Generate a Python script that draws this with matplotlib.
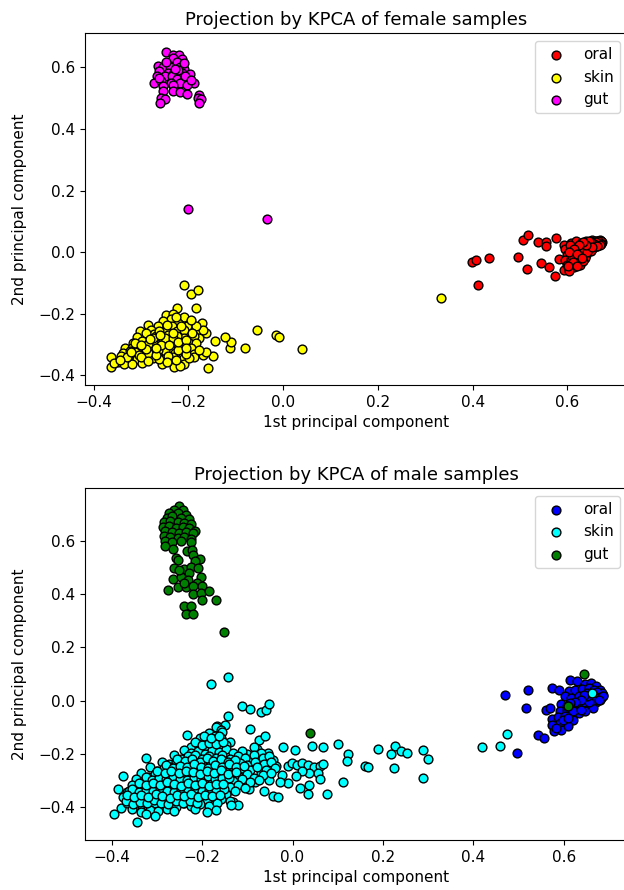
import matplotlib
matplotlib.use("Agg")
import matplotlib.pyplot as plt

# ---------------- female samples ----------------
oral_f_x = [0.399, 0.407, 0.434, 0.412, 0.495, 0.514, 0.506, 0.516, 0.538, 0.555, 0.555, 0.576, 0.544, 0.561, 0.574, 0.583, 0.593,
            0.593, 0.607, 0.618, 0.629, 0.640, 0.651, 0.662, 0.670, 0.673,
            0.596, 0.611, 0.626, 0.637, 0.648, 0.659, 0.666,
            0.600, 0.611, 0.622, 0.633, 0.644, 0.655, 0.662,
            0.596, 0.607, 0.618, 0.629, 0.640, 0.649,
            0.600, 0.611, 0.626, 0.637,
            0.604, 0.615, 0.626, 0.604,
            0.666, 0.670, 0.659, 0.662, 0.655, 0.648, 0.653, 0.644, 0.661, 0.668, 0.672, 0.656,
            0.605, 0.632, 0.642, 0.617, 0.624, 0.633, 0.610,
            0.668, 0.664, 0.671, 0.660, 0.657, 0.669, 0.650, 0.646, 0.663, 0.652, 0.640, 0.634, 0.625, 0.614,
            0.603, 0.620, 0.630, 0.612, 0.601, 0.620]
oral_f_y = [-0.031, -0.026, -0.019, -0.105, -0.016, -0.054, 0.039, 0.057, 0.034, 0.034, 0.019, 0.046, -0.035, -0.049, -0.076, -0.022, -0.058,
            0.025, 0.030, 0.036, 0.030, 0.038, 0.039, 0.038, 0.036, 0.032,
            0.009, 0.014, 0.017, 0.019, 0.022, 0.027, 0.030,
            -0.008, -0.002, 0.000, 0.003, 0.009, 0.014, 0.019,
            -0.024, -0.022, -0.018, -0.016, -0.008, 0.003,
            -0.040, -0.035, -0.029, -0.018,
            -0.054, -0.048, -0.040, -0.062,
            0.034, 0.030, 0.034, 0.025, 0.030, 0.030, 0.022, 0.025, 0.035, 0.039, 0.035, 0.038,
            0.022, 0.011, 0.000, 0.006, -0.011, -0.029, -0.013,
            0.030, 0.036, 0.028, 0.032, 0.027, 0.024, 0.033, 0.035, 0.020, 0.017, 0.025, 0.032, 0.025, 0.012,
            0.000, -0.005, -0.020, -0.030, -0.045, -0.045]

skin_f_x = [-0.210, -0.195, -0.179, -0.224, -0.184, 0.333, -0.056, -0.015, -0.008, 0.040, -0.080, -0.113, -0.109, -0.123, -0.144,
            -0.158, -0.147, -0.169, -0.162,
            -0.248, -0.232, -0.210, -0.237, -0.253, -0.286, -0.264, -0.221, -0.202, -0.171, -0.235,
            -0.301, -0.279, -0.246, -0.224, -0.210, -0.180, -0.162, -0.272, -0.290,
            -0.308, -0.268, -0.242, -0.210, -0.177, -0.188,
            -0.316, -0.297, -0.275, -0.253, -0.232, -0.199, -0.184, -0.210,
            -0.334, -0.319, -0.301, -0.283, -0.261, -0.239, -0.217, -0.195,
            -0.338, -0.312, -0.294, -0.272, -0.250, -0.228, -0.206, -0.188,
            -0.363, -0.349, -0.327, -0.308, -0.275, -0.253, -0.232, -0.210, -0.188,
            -0.363, -0.336, -0.319, -0.297, -0.255, -0.232, -0.230, -0.210, -0.217,
            -0.323, -0.286, -0.242, -0.221, -0.264, -0.312, -0.286, -0.177, -0.199, -0.169, -0.184, -0.224, -0.261, -0.275,
            -0.250, -0.232, -0.341, -0.356, -0.305, -0.261,
            -0.300, -0.285, -0.268, -0.245, -0.225, -0.205, -0.258, -0.240, -0.222, -0.205, -0.192, -0.232, -0.268, -0.290,
            -0.215, -0.195, -0.226, -0.244, -0.260, -0.300, -0.330, -0.345, -0.320, -0.280, -0.205]
skin_f_y = [-0.105, -0.137, -0.121, -0.181, -0.181, -0.149, -0.253, -0.267, -0.275, -0.314, -0.310, -0.310, -0.291, -0.275, -0.289,
            -0.377, -0.337, -0.332, -0.324,
            -0.205, -0.202, -0.210, -0.218, -0.224, -0.235, -0.238, -0.229, -0.238, -0.229, -0.240,
            -0.256, -0.251, -0.256, -0.256, -0.251, -0.251, -0.262, -0.264, -0.262,
            -0.275, -0.272, -0.270, -0.278, -0.278, -0.272,
            -0.294, -0.289, -0.294, -0.289, -0.294, -0.294, -0.294, -0.299,
            -0.310, -0.310, -0.314, -0.310, -0.307, -0.310, -0.314, -0.310,
            -0.326, -0.324, -0.326, -0.326, -0.321, -0.326, -0.324, -0.329,
            -0.339, -0.357, -0.343, -0.348, -0.343, -0.348, -0.339, -0.343, -0.339,
            -0.373, -0.362, -0.364, -0.359, -0.362, -0.359, -0.373, -0.362, -0.370,
            -0.321, -0.326, -0.337, -0.316, -0.316, -0.294, -0.299, -0.316, -0.343, -0.251, -0.240, -0.272, -0.256, -0.278,
            -0.278, -0.278, -0.337, -0.359, -0.332, -0.348,
            -0.340, -0.352, -0.335, -0.355, -0.350, -0.330, -0.300, -0.300, -0.292, -0.285, -0.262, -0.262, -0.310, -0.315,
            -0.240, -0.220, -0.210, -0.237, -0.270, -0.300, -0.340, -0.350, -0.325, -0.280, -0.310]

gut_f_x = [-0.246, -0.233, -0.219, -0.213, -0.233, -0.224, -0.264, -0.253, -0.239, -0.217, -0.210, -0.261, -0.242, -0.232, -0.213,
           -0.196, -0.267, -0.250, -0.235, -0.223, -0.210, -0.272, -0.257, -0.237, -0.217, -0.188, -0.253, -0.232, -0.202,
           -0.253, -0.232, -0.217, -0.202, -0.177, -0.257, -0.250, -0.180, -0.173, -0.177, -0.259, -0.246, -0.221, -0.206,
           -0.195, -0.228, -0.262, -0.210, -0.201, -0.033]
gut_f_y = [0.649, 0.641, 0.641, 0.627, 0.630, 0.619, 0.605, 0.603, 0.603, 0.603, 0.595, 0.587, 0.582, 0.578, 0.582,
           0.578, 0.571, 0.571, 0.571, 0.562, 0.560, 0.551, 0.555, 0.549, 0.549, 0.549, 0.541, 0.544, 0.544,
           0.522, 0.522, 0.519, 0.515, 0.511, 0.501, 0.497, 0.501, 0.497, 0.486, 0.486, 0.619, 0.592, 0.571,
           0.560, 0.595, 0.565, 0.614, 0.142, 0.108]

# ---------------- male samples ----------------
oral_m_x = [0.471, 0.521, 0.516, 0.496, 0.544, 0.556, 0.560, 0.569, 0.574, 0.589, 0.594,
            0.614, 0.629, 0.648, 0.660, 0.671, 0.679, 0.687, 0.683,
            0.612, 0.625, 0.640, 0.656, 0.667, 0.675, 0.664, 0.652,
            0.602, 0.617, 0.633, 0.648, 0.660, 0.671, 0.679,
            0.591, 0.606, 0.621, 0.637, 0.652, 0.664, 0.644, 0.629,
            0.575, 0.587, 0.602, 0.617, 0.633, 0.648,
            0.575, 0.591, 0.606, 0.621,
            0.579, 0.594, 0.610, 0.583,
            0.675, 0.681, 0.684, 0.674, 0.667, 0.660, 0.679, 0.671, 0.666, 0.656, 0.687, 0.677,
            0.652, 0.644, 0.637, 0.625, 0.614, 0.606, 0.621, 0.637, 0.598, 0.610]
oral_m_y = [0.023, 0.041, -0.028, -0.196, -0.128, -0.140, -0.034, -0.029, 0.048, 0.041, -0.011,
            0.076, 0.075, 0.064, 0.066, 0.056, 0.041, 0.023, 0.010,
            0.035, 0.041, 0.044, 0.048, 0.041, 0.029, 0.023, 0.029,
            0.016, 0.010, 0.016, 0.010, 0.004, -0.003, 0.004,
            -0.040, -0.034, -0.021, -0.015, -0.021, -0.028, -0.003, -0.009,
            -0.069, -0.061, -0.056, -0.053, -0.046, -0.040,
            -0.090, -0.084, -0.078, -0.071,
            -0.115, -0.111, -0.096, -0.103,
            0.016, 0.023, 0.029, 0.031, 0.019, 0.016, 0.014, 0.010, 0.004, -0.006, 0.019, 0.001,
            0.016, 0.023, 0.004, -0.003, -0.009, -0.019, -0.040, -0.034, -0.071, -0.065]

skin_m_x = [
    -0.181, -0.142, -0.111, -0.095, -0.069, -0.059, -0.051, -0.143, -0.149, -0.168, -0.095, -0.234, -0.324, -0.375,
    -0.385, -0.395, -0.380, -0.344, -0.366,
    -0.020, 0.005, 0.044, 0.068, 0.101, 0.122, 0.121, 0.112, 0.077, 0.035, 0.037, 0.017, 0.190, 0.226, 0.218, 0.239,
    0.253, 0.224, 0.160, 0.168, 0.289, 0.300, 0.289, 0.418, 0.460, 0.475, 0.662,
    -0.074, -0.060, -0.078, -0.055, -0.043, -0.036, -0.024, -0.009, -0.001, 0.011, 0.022, 0.034, 0.047, 0.061, 0.068,
    0.057, 0.061, 0.037, 0.022, 0.007, -0.009, -0.028, -0.043, -0.033, -0.062, -0.051, -0.070, -0.085, -0.093, -0.074,
    -0.101, -0.082, -0.097, -0.108, -0.116, -0.120, -0.111, -0.132, -0.139, -0.128, -0.139, -0.132, -0.120,
    -0.170, -0.158,
    -0.185, -0.171, -0.155,
    -0.204, -0.189, -0.174, -0.158, -0.139,
    -0.224, -0.208, -0.193, -0.178, -0.162, -0.147, -0.085,
    -0.239, -0.224, -0.208, -0.193, -0.178, -0.162, -0.147, -0.132, -0.112, -0.070,
    -0.262, -0.247, -0.231, -0.216, -0.201, -0.185, -0.170, -0.155, -0.139, -0.120, -0.105, -0.085, -0.066, -0.051,
    -0.289, -0.274, -0.258, -0.243, -0.228, -0.212, -0.197, -0.181, -0.166, -0.151, -0.135, -0.116, -0.101, -0.082,
    -0.062, -0.047,
    -0.316, -0.300, -0.285, -0.270, -0.254, -0.239, -0.224, -0.208, -0.193, -0.178, -0.162, -0.147, -0.132, -0.112,
    -0.093, -0.078, -0.059, -0.039,
    -0.335, -0.320, -0.304, -0.289, -0.274, -0.258, -0.243, -0.228, -0.212, -0.197, -0.181, -0.166, -0.151, -0.135,
    -0.120, -0.101, -0.085, -0.066, -0.047,
    -0.347, -0.331, -0.316, -0.300, -0.285, -0.270, -0.254, -0.239, -0.224, -0.208, -0.193, -0.178, -0.162, -0.147,
    -0.132, -0.112, -0.093, -0.074,
    -0.354, -0.339, -0.324, -0.308, -0.293, -0.277, -0.262, -0.247, -0.231, -0.216, -0.201, -0.185, -0.170, -0.155,
    -0.139, -0.120, -0.105,
    -0.362, -0.347, -0.331, -0.316, -0.300, -0.285, -0.270, -0.254, -0.239, -0.224, -0.208, -0.193, -0.178, -0.162,
    -0.147, -0.128,
    -0.374, -0.358, -0.343, -0.327, -0.312, -0.297, -0.281, -0.266, -0.251, -0.235, -0.220, -0.204, -0.189, -0.174,
    -0.158, -0.139,
    -0.366, -0.350, -0.335, -0.320, -0.304, -0.289, -0.274, -0.258, -0.239, -0.224, -0.204, -0.185, -0.166, -0.135,
    -0.354, -0.335, -0.316, -0.297, -0.277, -0.262, -0.216, -0.189, -0.170,
    -0.324, -0.304,
    -0.255, -0.238, -0.222, -0.205, -0.190, -0.175, -0.158, -0.142, -0.127,
    -0.280, -0.265, -0.248, -0.233, -0.218, -0.203, -0.187, -0.172, -0.157, -0.141, -0.124, -0.108,
    -0.325, -0.310, -0.295, -0.280, -0.264, -0.249, -0.233, -0.218, -0.202, -0.187, -0.172, -0.156, -0.140,
    -0.355, -0.340, -0.324, -0.309, -0.293, -0.277, -0.262, -0.246, -0.231, -0.216, -0.200, -0.185, -0.169, -0.152,
    -0.368, -0.352, -0.337, -0.321, -0.306, -0.290, -0.275, -0.258, -0.243, -0.227, -0.211,
    -0.215, -0.200, -0.185, -0.170, -0.153,
    -0.195, -0.180, -0.163,
    -0.300, -0.283, -0.268, -0.251, -0.236, -0.220, -0.205, -0.189, -0.174, -0.158, -0.143, -0.126,
    -0.340, -0.325, -0.309, -0.294, -0.278, -0.262, -0.247, -0.231, -0.216, -0.200, -0.185, -0.170, -0.153,
    -0.366, -0.350, -0.335, -0.319, -0.303, -0.288, -0.272, -0.256, -0.241, -0.225, -0.210, -0.194, -0.178, -0.160]
skin_m_y = [
    0.064, 0.089, -0.021, -0.031, -0.043, -0.034, -0.013, -0.056, -0.090, -0.096, -0.106, -0.130, -0.213, -0.284,
    -0.331, -0.425, -0.403, -0.453, -0.343,
    -0.175, -0.184, -0.168, -0.175, -0.161, -0.200, -0.225, -0.305, -0.350, -0.350, -0.315, -0.328, -0.180, -0.168,
    -0.200, -0.190, -0.196, -0.253, -0.246, -0.250, -0.186, -0.218, -0.288, -0.175, -0.168, -0.124, 0.029,
    -0.146, -0.134, -0.181, -0.196, -0.221, -0.246, -0.278, -0.246, -0.234, -0.240, -0.234, -0.240, -0.249, -0.243,
    -0.238, -0.271, -0.294, -0.271, -0.265, -0.284, -0.309, -0.303, -0.359, -0.361, -0.340, -0.296, -0.271, -0.246,
    -0.221, -0.219, -0.200, -0.303, -0.331, -0.296, -0.259, -0.215, -0.200, -0.234, -0.259, -0.303, -0.334, -0.381,
    -0.390,
    -0.100, -0.108,
    -0.120, -0.131, -0.118,
    -0.141, -0.152, -0.144, -0.139, -0.153,
    -0.175, -0.163, -0.171, -0.160, -0.176, -0.166, -0.172,
    -0.184, -0.196, -0.187, -0.199, -0.183, -0.193, -0.181, -0.195, -0.188, -0.197,
    -0.205, -0.217, -0.209, -0.203, -0.219, -0.206, -0.214, -0.202, -0.218, -0.208, -0.216, -0.204, -0.213, -0.207,
    -0.228, -0.239, -0.230, -0.242, -0.227, -0.236, -0.244, -0.229, -0.238, -0.226, -0.241, -0.232, -0.240, -0.228,
    -0.237, -0.231,
    -0.250, -0.262, -0.253, -0.249, -0.264, -0.255, -0.260, -0.248, -0.263, -0.252, -0.258, -0.250, -0.265, -0.254,
    -0.261, -0.249, -0.259, -0.252,
    -0.272, -0.285, -0.276, -0.283, -0.271, -0.281, -0.287, -0.274, -0.280, -0.270, -0.286, -0.277, -0.284, -0.273,
    -0.282, -0.275, -0.288, -0.278, -0.271,
    -0.295, -0.307, -0.298, -0.309, -0.294, -0.303, -0.296, -0.308, -0.299, -0.305, -0.293, -0.306, -0.297, -0.310,
    -0.300, -0.294, -0.304, -0.298,
    -0.317, -0.329, -0.320, -0.331, -0.318, -0.327, -0.321, -0.330, -0.316, -0.326, -0.322, -0.332, -0.319, -0.328,
    -0.323, -0.317, -0.329,
    -0.340, -0.352, -0.343, -0.350, -0.339, -0.348, -0.354, -0.341, -0.347, -0.338, -0.353, -0.344, -0.351, -0.342,
    -0.349, -0.340,
    -0.362, -0.374, -0.365, -0.372, -0.361, -0.370, -0.376, -0.364, -0.371, -0.363, -0.375, -0.366, -0.373, -0.362,
    -0.368, -0.374,
    -0.384, -0.396, -0.387, -0.394, -0.383, -0.392, -0.386, -0.397, -0.385, -0.393, -0.388, -0.395, -0.384, -0.391,
    -0.405, -0.416, -0.408, -0.414, -0.404, -0.413, -0.407, -0.417, -0.409,
    -0.425, -0.433,
    -0.218, -0.227, -0.220, -0.229, -0.216, -0.225, -0.219, -0.228, -0.221,
    -0.240, -0.251, -0.243, -0.249, -0.238, -0.247, -0.252, -0.241, -0.248, -0.239, -0.250, -0.244,
    -0.285, -0.296, -0.288, -0.294, -0.283, -0.292, -0.297, -0.286, -0.293, -0.284, -0.295, -0.289, -0.291,
    -0.330, -0.341, -0.333, -0.339, -0.328, -0.337, -0.342, -0.331, -0.338, -0.329, -0.340, -0.334, -0.336, -0.332,
    -0.375, -0.386, -0.378, -0.384, -0.373, -0.382, -0.387, -0.376, -0.383, -0.374, -0.385,
    -0.156, -0.165, -0.158, -0.163, -0.155,
    -0.131, -0.140, -0.134,
    -0.263, -0.271, -0.265, -0.272, -0.262, -0.269, -0.274, -0.264, -0.270, -0.261, -0.273, -0.266,
    -0.308, -0.317, -0.310, -0.316, -0.306, -0.314, -0.319, -0.309, -0.315, -0.307, -0.318, -0.311, -0.313,
    -0.353, -0.362, -0.355, -0.360, -0.351, -0.358, -0.363, -0.352, -0.359, -0.350, -0.361, -0.354, -0.357, -0.352]

gut_m_x = [-0.252, -0.262, -0.243, -0.274, -0.254, -0.235, -0.277, -0.266, -0.247, -0.228, -0.285, -0.270, -0.254, -0.239,
           -0.224, -0.287, -0.274, -0.258, -0.243, -0.228, -0.216, -0.281, -0.266, -0.251, -0.235, -0.220, -0.285, -0.271,
           -0.254, -0.239, -0.224, -0.281, -0.266, -0.247, -0.224, -0.281, -0.264, -0.233, -0.222,
           -0.258, -0.253, -0.220, -0.205, -0.216, -0.262, -0.239, -0.224, -0.228, -0.208, -0.264, -0.247, -0.231, -0.202,
           -0.212, -0.254, -0.235, -0.220, -0.201, -0.276, -0.219, -0.202, -0.184, -0.201, -0.170, -0.241, -0.225, -0.235,
           -0.221, -0.239, -0.251,
           -0.151, 0.039, 0.644, 0.610]
gut_m_y = [0.729, 0.716, 0.714, 0.704, 0.704, 0.698, 0.685, 0.691, 0.685, 0.681, 0.669, 0.673, 0.669, 0.666,
           0.664, 0.651, 0.654, 0.648, 0.651, 0.648, 0.635, 0.635, 0.631, 0.629, 0.631, 0.629, 0.616, 0.614,
           0.610, 0.614, 0.606, 0.598, 0.594, 0.598, 0.594, 0.579, 0.569, 0.560, 0.564,
           0.535, 0.529, 0.548, 0.531, 0.523, 0.498, 0.494, 0.501, 0.479, 0.498, 0.456, 0.464, 0.454, 0.464,
           0.441, 0.426, 0.426, 0.431, 0.429, 0.416, 0.400, 0.404, 0.413, 0.379, 0.379, 0.356, 0.356, 0.325,
           0.325, 0.441, 0.491,
           0.259, -0.120, 0.100, -0.018]

labels = ["oral", "skin", "gut"]
colors_f = ["red", "yellow", "magenta"]
colors_m = ["blue", "cyan", "green"]
ticks = [-0.4, -0.2, 0.0, 0.2, 0.4, 0.6]

fig = plt.figure(figsize=(6.24, 8.90), dpi=100)
ax1 = fig.add_axes([0.1362, 0.5674, 0.8702, 0.3952])
ax2 = fig.add_axes([0.1362, 0.0562, 0.8702, 0.3955])

female = [(oral_f_x, oral_f_y), (skin_f_x, skin_f_y), (gut_f_x, gut_f_y)]
male = [(oral_m_x, oral_m_y), (skin_m_x, skin_m_y), (gut_m_x, gut_m_y)]

for ax, data, cols, title in [(ax1, female, colors_f, "Projection by KPCA of female samples"),
                              (ax2, male, colors_m, "Projection by KPCA of male samples")]:
    for (xs, ys), c, lab in zip(data, cols, labels):
        ax.scatter(xs, ys, s=40, c=c, edgecolors="black", linewidths=1.0, label=lab)
    ax.set_title(title, fontsize=13)
    ax.set_xlabel("1st principal component", fontsize=11)
    ax.set_ylabel("2nd principal component", fontsize=11, labelpad=8)
    ax.set_xticks(ticks)
    ax.set_yticks(ticks)
    ax.tick_params(labelsize=11)
    ax.legend(loc="upper right", fontsize=11)

ax1.set_xlim(-0.418, 0.728)
ax1.set_ylim(-0.431, 0.711)
ax2.set_xlim(-0.459, 0.742)
ax2.set_ylim(-0.522, 0.7975)

fig.savefig("out.png", dpi=100)
